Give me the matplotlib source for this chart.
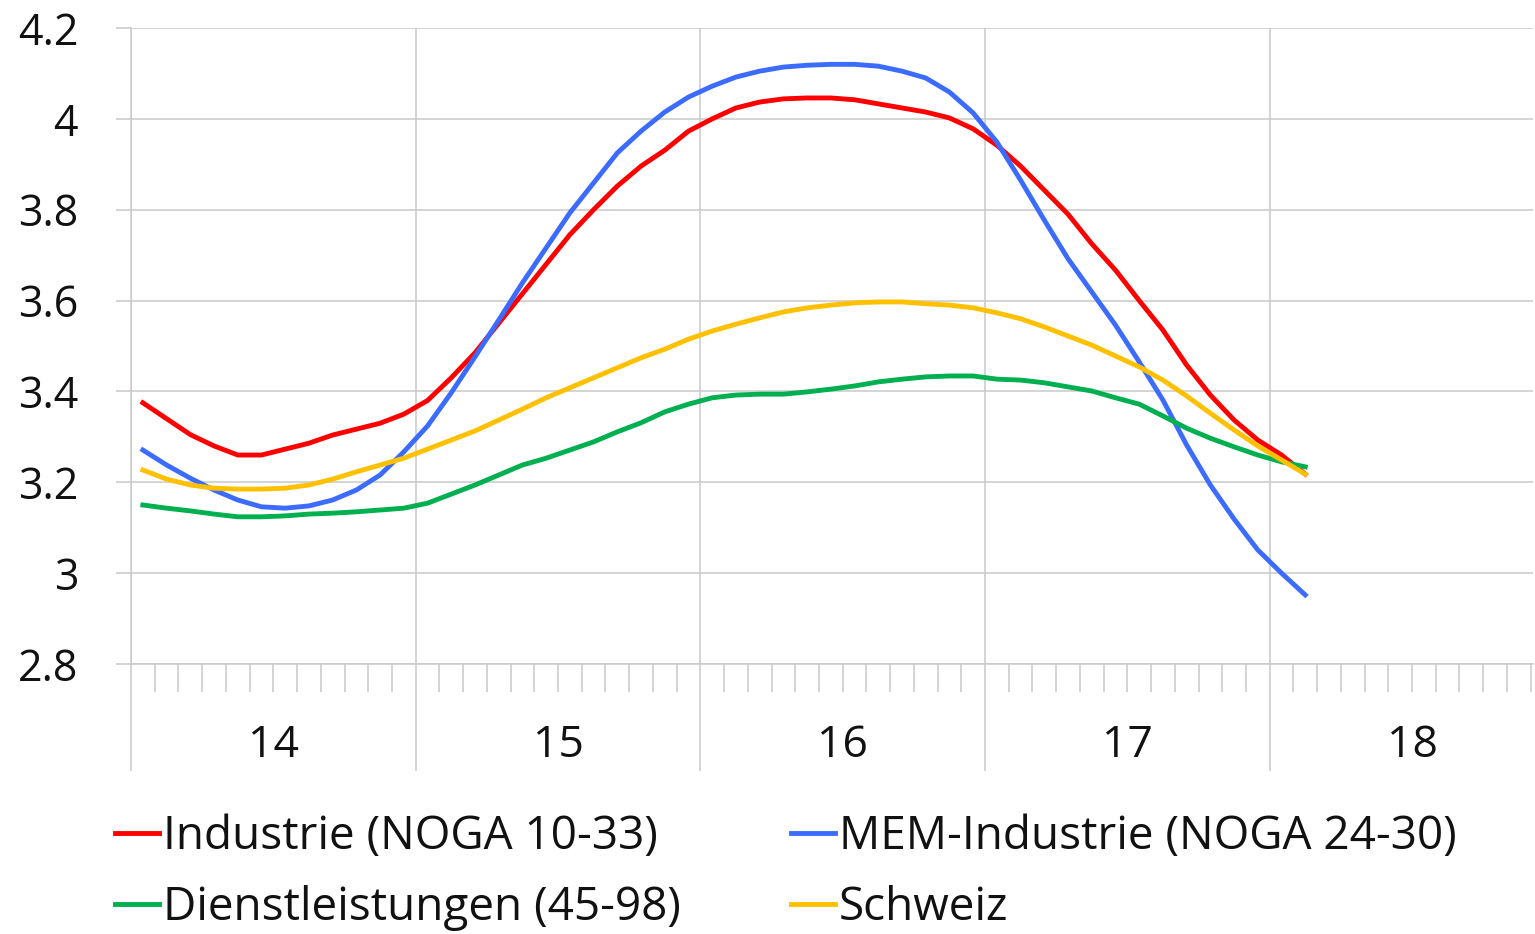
import numpy as np
import matplotlib
matplotlib.use("Agg")
import matplotlib.pyplot as plt
from matplotlib.ticker import MultipleLocator, FixedLocator

# Monatswerte Jan 2014 - Feb 2018
industrie = [3.375, 3.34, 3.305, 3.28, 3.26, 3.26, 3.273, 3.286, 3.304, 3.317,
             3.33, 3.35, 3.38, 3.43, 3.485, 3.55, 3.615, 3.68, 3.745, 3.80,
             3.852, 3.896, 3.931, 3.973, 4.0, 4.024, 4.037, 4.044, 4.046, 4.046,
             4.042, 4.033, 4.024, 4.015, 4.002, 3.978, 3.942, 3.896, 3.843, 3.79,
             3.725, 3.667, 3.60, 3.535, 3.458, 3.392, 3.337, 3.293, 3.26, 3.218]
mem = [3.271, 3.238, 3.209, 3.183, 3.161, 3.146, 3.143, 3.148, 3.161, 3.183,
       3.216, 3.267, 3.324, 3.397, 3.476, 3.557, 3.639, 3.716, 3.793, 3.859,
       3.925, 3.973, 4.015, 4.048, 4.072, 4.092, 4.105, 4.114, 4.118, 4.12,
       4.12, 4.116, 4.105, 4.09, 4.059, 4.013, 3.949, 3.865, 3.777, 3.692,
       3.619, 3.546, 3.465, 3.381, 3.282, 3.194, 3.119, 3.051, 3.0, 2.952]
dienst = [3.15, 3.143, 3.137, 3.13, 3.124, 3.124, 3.126, 3.13, 3.132, 3.135,
          3.139, 3.143, 3.154, 3.174, 3.194, 3.216, 3.238, 3.253, 3.271, 3.289,
          3.311, 3.331, 3.355, 3.372, 3.386, 3.392, 3.394, 3.394, 3.399, 3.405,
          3.412, 3.421, 3.427, 3.432, 3.434, 3.434, 3.427, 3.425, 3.419, 3.41,
          3.401, 3.386, 3.372, 3.346, 3.319, 3.297, 3.278, 3.26, 3.245, 3.234]
schweiz = [3.227, 3.207, 3.194, 3.187, 3.185, 3.185, 3.187, 3.194, 3.207, 3.223,
           3.238, 3.253, 3.273, 3.293, 3.313, 3.337, 3.361, 3.386, 3.408, 3.43,
           3.452, 3.474, 3.493, 3.515, 3.533, 3.548, 3.562, 3.575, 3.584, 3.59,
           3.595, 3.597, 3.597, 3.593, 3.59, 3.584, 3.573, 3.56, 3.542, 3.522,
           3.502, 3.478, 3.454, 3.425, 3.39, 3.352, 3.315, 3.28, 3.249, 3.218]
jahre = ["14", "15", "16", "17", "18"]
y_ticks = [2.8, 3.0, 3.2, 3.4, 3.6, 3.8, 4.0, 4.2]
y_labels = ["2.8", "3", "3.2", "3.4", "3.6", "3.8", "4", "4.2"]

plt.rcParams['font.family'] = ['Open Sans', 'DejaVu Sans']
grid_col = '#c9c9c9'

fig = plt.figure(figsize=(15.35, 9.34), dpi=100)
ax = fig.add_axes([131 / 1535, 1 - 664 / 934, 1402 / 1535, 636 / 934])

x = np.arange(len(industrie)) + 0.5
l1, = ax.plot(x, industrie, color='#ff0000', lw=3.5)
l2, = ax.plot(x, mem, color='#3b6cff', lw=3.5)
l3, = ax.plot(x, dienst, color='#00b050', lw=3.5)
l4, = ax.plot(x, schweiz, color='#ffc000', lw=3.5)

ax.set_xlim(0, 59.1)
ax.set_ylim(2.8, 4.2)
ax.yaxis.set_major_locator(FixedLocator(y_ticks))
ax.set_yticklabels(y_labels)
ax.xaxis.set_major_locator(FixedLocator([0, 12, 24, 36, 48]))
ax.xaxis.set_minor_locator(MultipleLocator(1))
ax.set_xticklabels([])

ax.grid(True, which='major', color=grid_col, lw=1.1)
for s in ['top', 'right']:
    ax.spines[s].set_visible(False)
for s in ['left', 'bottom']:
    ax.spines[s].set_color(grid_col)
    ax.spines[s].set_linewidth(1.1)

ax.tick_params(axis='y', length=11, width=1.1, color=grid_col, pad=27,
               labelsize=31, labelcolor='#111111')
ax.tick_params(axis='x', which='major', length=77, width=1.1, color=grid_col)
ax.tick_params(axis='x', which='minor', length=20, width=1.1, color=grid_col)

for k, j in enumerate(jahre):
    ax.text(6 + 12 * k, -0.129, j, transform=ax.get_xaxis_transform(),
            ha='center', va='center', fontsize=32, color='#111111')

# Excel-Reihenfolge: zeilenweise
handles = [l1, l3, l2, l4]
labels = ['Industrie (NOGA 10-33)', 'Dienstleistungen (45-98)',
          'MEM-Industrie (NOGA 24-30)', 'Schweiz']
leg = fig.legend(handles, labels, loc='upper left',
                 bbox_to_anchor=(115 / 1535, 1 - 814 / 934),
                 ncol=2, frameon=False, fontsize=33, handlelength=0.95,
                 handletextpad=0.1, columnspacing=2.4, labelspacing=0.55,
                 borderaxespad=0, borderpad=0)
for t in leg.get_texts():
    t.set_color('#111111')

fig.savefig('out.png', dpi=100)
